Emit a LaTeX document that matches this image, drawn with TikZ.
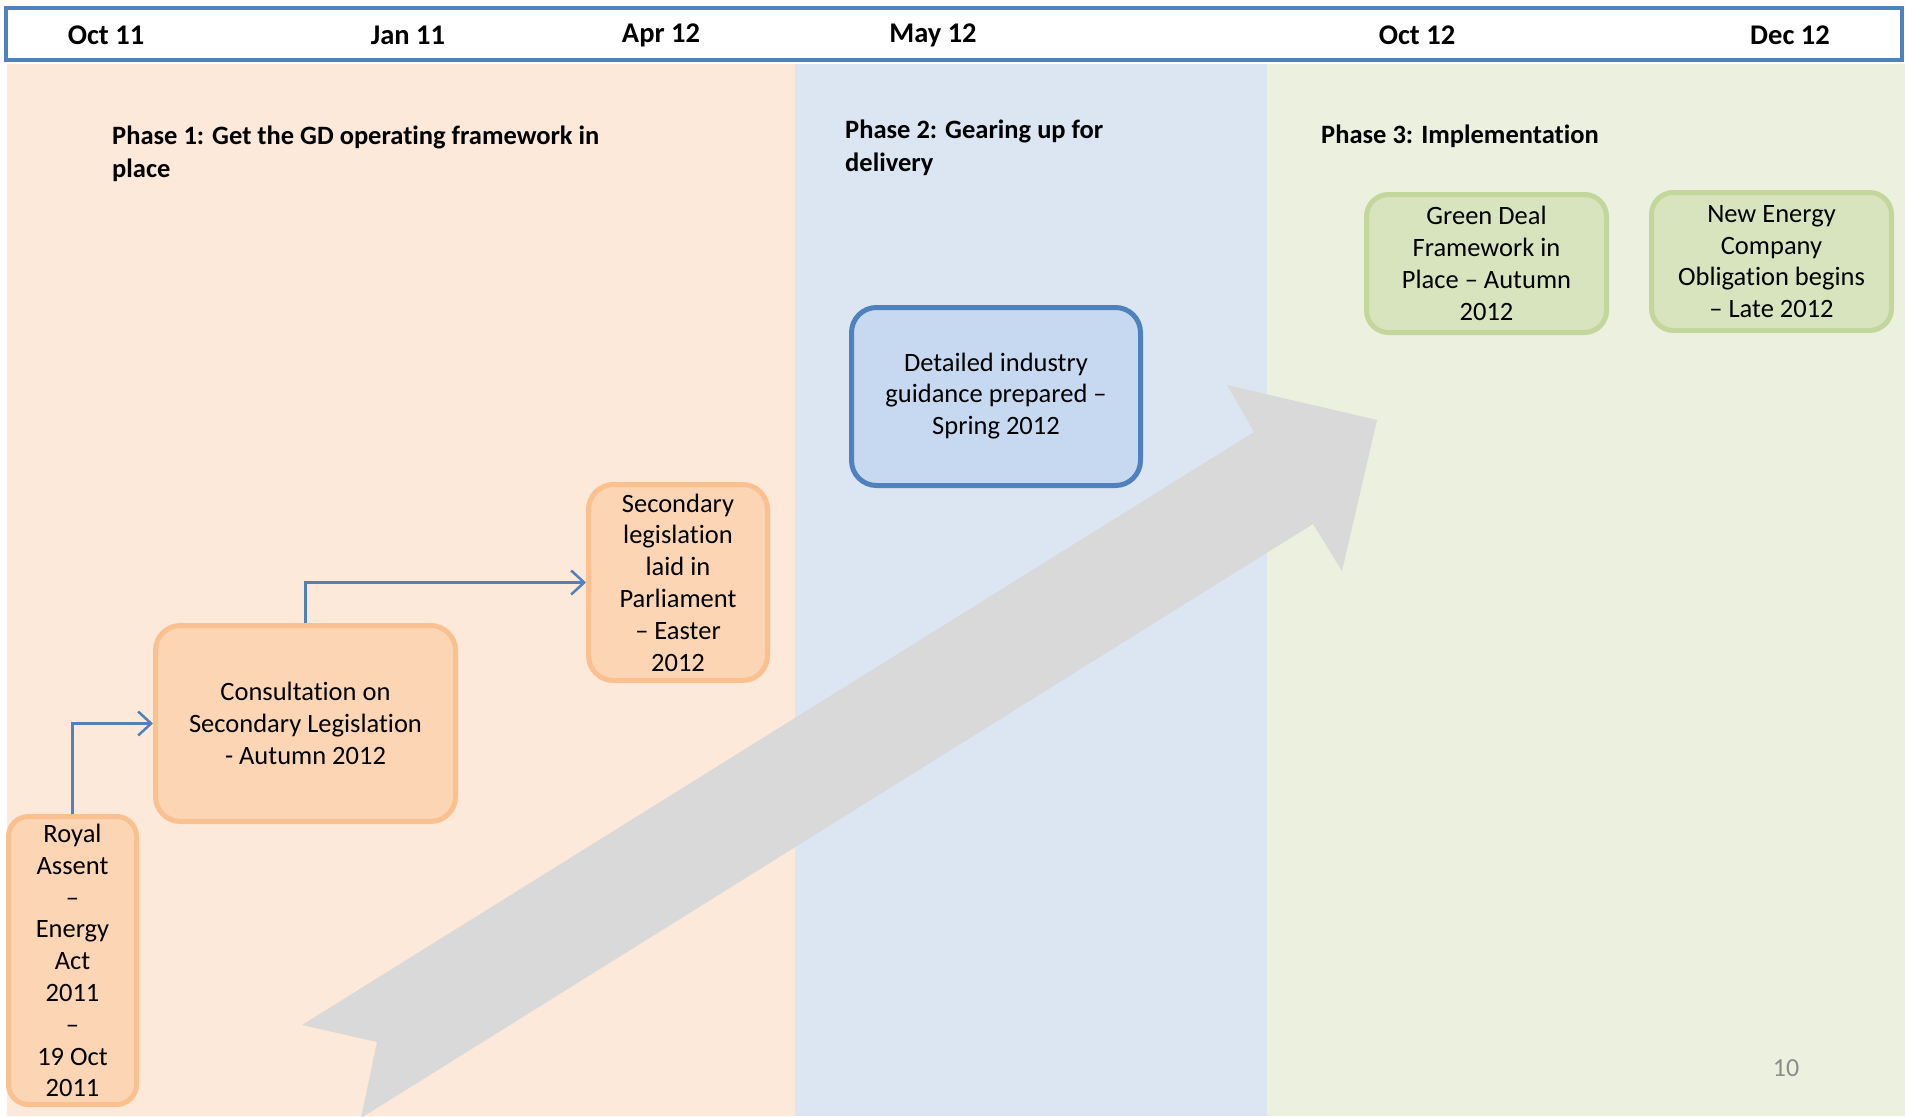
\documentclass[tikz,border=0pt]{standalone}
\usepackage{fontspec}
\setmainfont{Carlito}[Ligatures=NoCommon]
\usetikzlibrary{arrows.meta}
\definecolor{bgpeach}{HTML}{FDE9D9}
\definecolor{bgblue}{HTML}{DCE6F2}
\definecolor{bggreen}{HTML}{EBF1DE}
\definecolor{orfill}{HTML}{FCD5B5}
\definecolor{ordraw}{HTML}{FAC090}
\definecolor{blfill}{HTML}{C6D9F1}
\definecolor{bldraw}{HTML}{4F81BD}
\definecolor{grfill}{HTML}{D7E4BD}
\definecolor{grdraw}{HTML}{C3D69B}
\definecolor{arrgray}{HTML}{D9D9D9}
\definecolor{pagegray}{HTML}{8C8C8C}
\tikzset{
  boxtext/.style={font=\fontsize{26.5}{31.8}\selectfont, align=center, inner sep=0pt, line width=5pt, rounded corners=25pt},
  orbox/.style={boxtext, draw=ordraw, fill=orfill},
  blbox/.style={boxtext, draw=bldraw, fill=blfill},
  grbox/.style={boxtext, draw=grdraw, fill=grfill, rounded corners=22pt},
  datelbl/.style={font=\bfseries\fontsize{28.5}{34}\selectfont, inner sep=0pt},
  phaselbl/.style={font=\bfseries\fontsize{26.5}{33}\selectfont, align=left, inner sep=0pt, anchor=west},
  conn/.style={draw=bldraw, line width=2.5pt, -{Straight Barb[length=13pt,width=24pt,line width=2.5pt]}}
}
\begin{document}
\begin{tikzpicture}[x=1pt,y=-1pt]
\useasboundingbox (0,0) rectangle (1905,1116);
\begin{scope}
\clip (0,0) rectangle (1905,1116);
\fill[bgpeach] (7,64) rectangle (795,1116);
\fill[bgblue] (795,64) rectangle (1267,1116);
\fill[bggreen] (1267,64) rectangle (1905,1116);
\fill[arrgray] (302,1025) -- (1254,432) -- (1227,385) -- (1377,420) -- (1342,571) -- (1313,524) -- (361,1118) -- (377,1042) -- cycle;
\end{scope}
% header
\node[draw=bldraw, fill=white, line width=4pt, minimum width=1896pt, minimum height=52pt, inner sep=0pt] (hdr) at (954,34) {};
\node[datelbl] (d1) at (106,35) {Oct 11};
\node[datelbl] (d2) at (408,35) {Jan 11};
\node[datelbl] (d3) at (661,35) {Apr 12};
\node[datelbl] (d4) at (933,35) {May 12};
\node[datelbl] (d5) at (1417,35) {Oct 12};
\node[datelbl] (d6) at (1790,35) {Dec 12};
% phase labels
\node[phaselbl] (p1) at (112,154) {Phase 1: Get the GD operating framework in\\place};
\node[phaselbl] (p2) at (845,148) {Phase 2: Gearing up for\\delivery};
\node[phaselbl] (p3) at (1321,136.5) {Phase 3: Implementation};
% boxes
\node[orbox, rounded corners=20pt, minimum width=128pt, minimum height=288pt] (royal) at (72.5,960.5) {Royal\\Assent\\–\\Energy\\Act\\2011\\–\\19 Oct\\2011};
\node[orbox, minimum width=300pt, minimum height=196pt] (consult) at (305.5,723.5) {Consultation on\\Secondary Legislation\\- Autumn 2012};
\node[orbox, minimum width=179pt, minimum height=196pt] (secleg) at (678,582.5) {Secondary\\legislation\\laid in\\Parliament\\– Easter\\2012};
\node[blbox, minimum width=289pt, minimum height=178pt] (detail) at (996,396.5) {\raisebox{-3pt}{\begin{tabular}{@{}c@{}}Detailed industry\\guidance prepared –\\Spring 2012\end{tabular}}};
\node[grbox, minimum width=240pt, minimum height=138pt] (green) at (1486.5,263.5) {Green Deal\\Framework in\\Place – Autumn\\2012};
\node[grbox, minimum width=240pt, minimum height=138pt] (newen) at (1771.5,261.5) {New Energy\\Company\\Obligation begins\\– Late 2012};
% connectors
\draw[conn] (royal.north) |- (consult.west);
\draw[conn] (consult.north) |- (secleg.west);
% page number
\node[font=\fontsize{26}{31}\selectfont, text=pagegray, inner sep=0pt] (pnum) at (1786,1068) {10};
\end{tikzpicture}
\end{document}
